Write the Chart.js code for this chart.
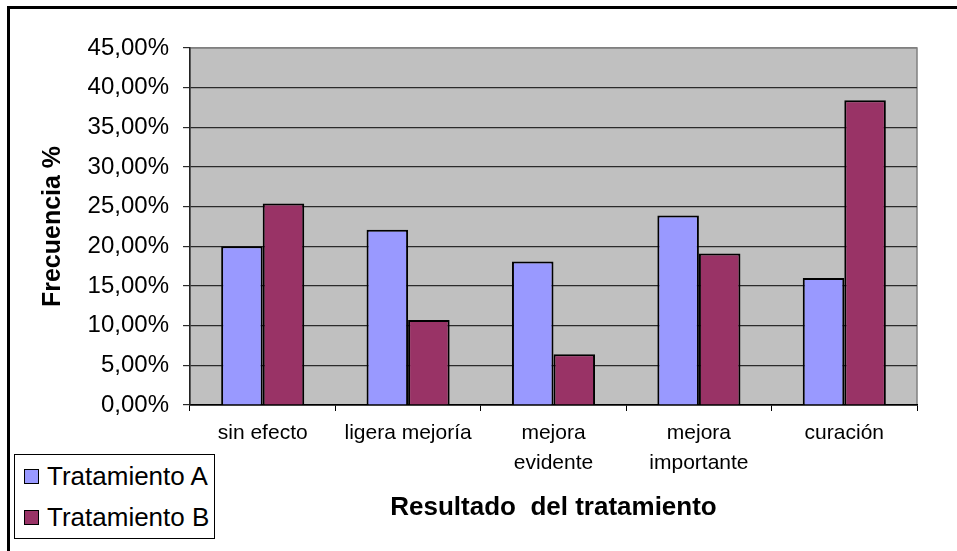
<!DOCTYPE html>
<html lang="es">
<head>
    <meta charset="UTF-8">
    <title>Resultado del tratamiento</title>
    <script src="https://cdn.jsdelivr.net/npm/chart.js"></script>
    <style>
        body { margin: 0; background: #fff; font-family: Arial, "Liberation Sans", sans-serif; }
        #wrap { position: relative; width: 957px; height: 551px; overflow: hidden; }
        #frame { position: absolute; left: 7px; top: 6px; width: 1000px; height: 1000px; border-top: 3px solid #000; border-left: 3px solid #000; }
        #legend { position: absolute; left: 14px; top: 454px; width: 199px; height: 83px; border: 1px solid #000; background: #fff; }
        .item { position: absolute; left: 9px; height: 30px; line-height: 30px; font-size: 26px; color: #000; white-space: nowrap; }
        .item span { display: inline-block; width: 13px; height: 13px; border: 1.5px solid #000; margin-right: 8px; vertical-align: 1px; }
    </style>
</head>
<body>
<div id="wrap">
    <canvas id="chart" width="957" height="551"></canvas>
    <div id="frame"></div>
    <div id="legend"></div>
</div>
<script>
    const categories = [
        'sin efecto',
        'ligera mejoría',
        ['mejora', 'evidente'],
        ['mejora', 'importante'],
        'curación'
    ];
    const seriesNames = ['Tratamiento A', 'Tratamiento B'];
    const tratamientoA = [20.0, 22.1, 18.1, 23.9, 16.0];
    const tratamientoB = [25.4, 10.7, 6.4, 19.1, 38.4];
    const seriesColors = ['#9999FF', '#993366'];
    const yMax = 45, yStep = 5;

    Chart.defaults.font.family = 'Arial, "Liberation Sans", sans-serif';
    Chart.defaults.color = '#000';

    const plotBackground = {
        id: 'plotBackground',
        beforeDraw(chart) {
            const a = chart.chartArea, ctx = chart.ctx;
            ctx.save();
            ctx.fillStyle = '#C0C0C0';
            ctx.fillRect(a.left, a.top, a.right - a.left, a.bottom - a.top);
            ctx.strokeStyle = '#808080';
            ctx.lineWidth = 1.5;
            ctx.strokeRect(a.left, a.top, a.right - a.left, a.bottom - a.top);
            ctx.restore();
        }
    };

    const chart = new Chart(document.getElementById('chart'), {
        type: 'bar',
        data: {
            labels: categories,
            datasets: [tratamientoA, tratamientoB].map((d, i) => ({
                label: seriesNames[i],
                data: d,
                backgroundColor: seriesColors[i],
                borderColor: '#000',
                borderWidth: 2,
                categoryPercentage: 2 / 3.5,
                barPercentage: 1
            }))
        },
        options: {
            responsive: false,
            animation: false,
            layout: { padding: { top: 48, right: 40, bottom: 0, left: 0 } },
            plugins: { legend: { display: false }, tooltip: { enabled: false } },
            scales: {
                x: {
                    afterFit(scale) { scale.height = 146; },
                    grid: { drawOnChartArea: false, tickLength: 6, tickColor: '#000', offset: true },
                    border: { color: '#000', width: 1.5 },
                    ticks: { padding: 7, maxRotation: 0, autoSkip: false, font: { size: 21, lineHeight: '30px' } },
                    title: {
                        display: true,
                        text: 'Resultado  del tratamiento',
                        font: { size: 26, weight: 'bold' },
                        padding: { top: 4, bottom: 28 }
                    }
                },
                y: {
                    min: 0,
                    max: yMax,
                    afterFit(scale) { scale.width = 190; },
                    grid: {
                        color: ctx => ctx.tick && ctx.tick.value === yMax ? '#808080' : '#2a2a2a',
                        tickColor: '#2a2a2a',
                        tickLength: 7,
                        lineWidth: 1.2
                    },
                    border: { color: '#222', width: 1.5 },
                    ticks: {
                        stepSize: yStep,
                        padding: 14,
                        font: { size: 24 },
                        callback: v => v.toFixed(2).replace('.', ',') + '%'
                    },
                    title: {
                        display: true,
                        text: 'Frecuencia %',
                        font: { size: 25, weight: 'bold' },
                        padding: { top: 38, bottom: 0 }
                    }
                }
            }
        },
        plugins: [plotBackground]
    });

    // legend built from the chart datasets
    const legend = document.getElementById('legend');
    chart.data.datasets.forEach((ds, i) => {
        const item = document.createElement('div');
        item.className = 'item';
        item.style.top = (6 + i * 41) + 'px';
        const box = document.createElement('span');
        box.style.background = ds.backgroundColor;
        item.appendChild(box);
        item.appendChild(document.createTextNode(ds.label));
        legend.appendChild(item);
    });
</script>
</body>
</html>
